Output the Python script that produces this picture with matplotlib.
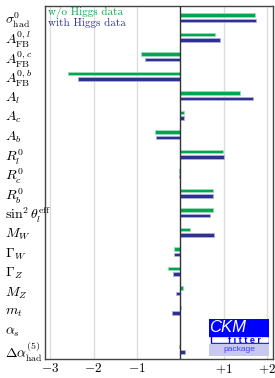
import os
import numpy as np
import matplotlib as mpl
import matplotlib.pyplot as plt
from matplotlib.patches import Rectangle
from matplotlib.font_manager import FontProperties

plt.rcParams['mathtext.fontset'] = 'cm'
cmr = os.path.join(mpl.get_data_path(), 'fonts', 'ttf', 'cmr10.ttf')

# Parameter names (top to bottom)
labels = [r'$\sigma^0_{\rm had}$', r'$A^{0,l}_{\rm FB}$', r'$A^{0,c}_{\rm FB}$',
          r'$A^{0,b}_{\rm FB}$', r'$A_l$', r'$A_c$', r'$A_b$', r'$R^0_l$',
          r'$R^0_c$', r'$R^0_b$', r'$\sin^2\theta^{\rm eff}_l$', r'$M_W$',
          r'$\Gamma_W$', r'$\Gamma_Z$', r'$M_Z$', r'$m_t$', r'$\alpha_s$',
          r'$\Delta\alpha^{(5)}_{\rm had}$']

# pulls without / with Higgs data
pull_wo = [1.73, 0.81, -0.90, -2.58, 1.39, 0.08, -0.58, 0.98, -0.04, 0.75,
           0.75, 0.23, -0.15, -0.28, 0.06, 0.01, 0.0, -0.03]
pull_with = [1.75, 0.92, -0.81, -2.35, 1.68, 0.09, -0.56, 1.02, -0.04, 0.75,
             0.69, 0.78, -0.14, -0.17, -0.09, -0.18, 0.0, 0.12]

xticks = [-3, -2, -1, 1, 2]
xticklabels = [r'$-3$', r'$-2$', r'$-1$', r'$+1$', r'$+2$']

green = '#00a651'
blue = '#2e3192'

fig = plt.figure(figsize=(2.75, 3.78), dpi=100)
ax = fig.add_axes([45/275, 1-359/378, 228/275, 353/378])

y = np.arange(len(labels))
ax.barh(y - 0.14, pull_wo, height=0.17, color=green, edgecolor='#9fdcb8', linewidth=0.6, zorder=3)
ax.barh(y + 0.14, pull_with, height=0.17, color=blue, edgecolor='#b0b2d8', linewidth=0.6, zorder=3)

ax.axvline(0, color='#333333', lw=1.0, zorder=4)
for xt in xticks:
    ax.axvline(xt, color='#dddddd', lw=1.0, zorder=1)

ax.set_xlim(-3.12, 2.14)
ax.set_ylim(17.5, -0.6)
ax.set_xticks(xticks)
ax.set_xticklabels(xticklabels, fontsize=9.5)
ax.set_yticks(y)
ax.set_yticklabels(labels, fontsize=10)
ax.tick_params(axis='y', length=0, pad=28.8)
for t in ax.get_yticklabels():
    t.set_horizontalalignment('left')
ax.tick_params(axis='x', length=0, pad=2.5)
for s in ax.spines.values():
    s.set_color('#444444')
    s.set_linewidth(1.0)

leg_font = FontProperties(fname=cmr, size=8)
ax.text(0.012, 0.997, 'w/o Higgs data', color=green, fontproperties=leg_font,
        transform=ax.transAxes, va='top', ha='left')
ax.text(0.012, 0.967, 'with Higgs data', color=blue, fontproperties=leg_font,
        transform=ax.transAxes, va='top', ha='left')

# CKMfitter logo
lg = fig.add_axes([209/275, 1-356/378, 60/275, 37/378])
lg.set_xlim(0, 60)
lg.set_ylim(37, 0)
lg.axis('off')
lg.add_patch(Rectangle((0, 0), 60, 17, color='#0000ff'))
lg.add_patch(Rectangle((1.5, 17), 58.5, 6.5, facecolor='white', edgecolor='#0000ff', lw=1))
lg.add_patch(Rectangle((0, 24.5), 60, 12.5, color='#c8c8f0'))
lg.text(0.5, 8.3, 'CKM', color='white', fontsize=12, style='italic', va='center', ha='left',
        family='Liberation Sans')
lg.text(35, 21.2, 'f i t t e r', color='#0000ff', fontsize=6.5, fontweight='bold',
        va='center', ha='center', family='Liberation Sans', zorder=5)
lg.text(30, 30.5, 'package', color='#4040ff', fontsize=6, va='center', ha='center',
        family='Liberation Sans')

fig.savefig('out.png', dpi=100)
